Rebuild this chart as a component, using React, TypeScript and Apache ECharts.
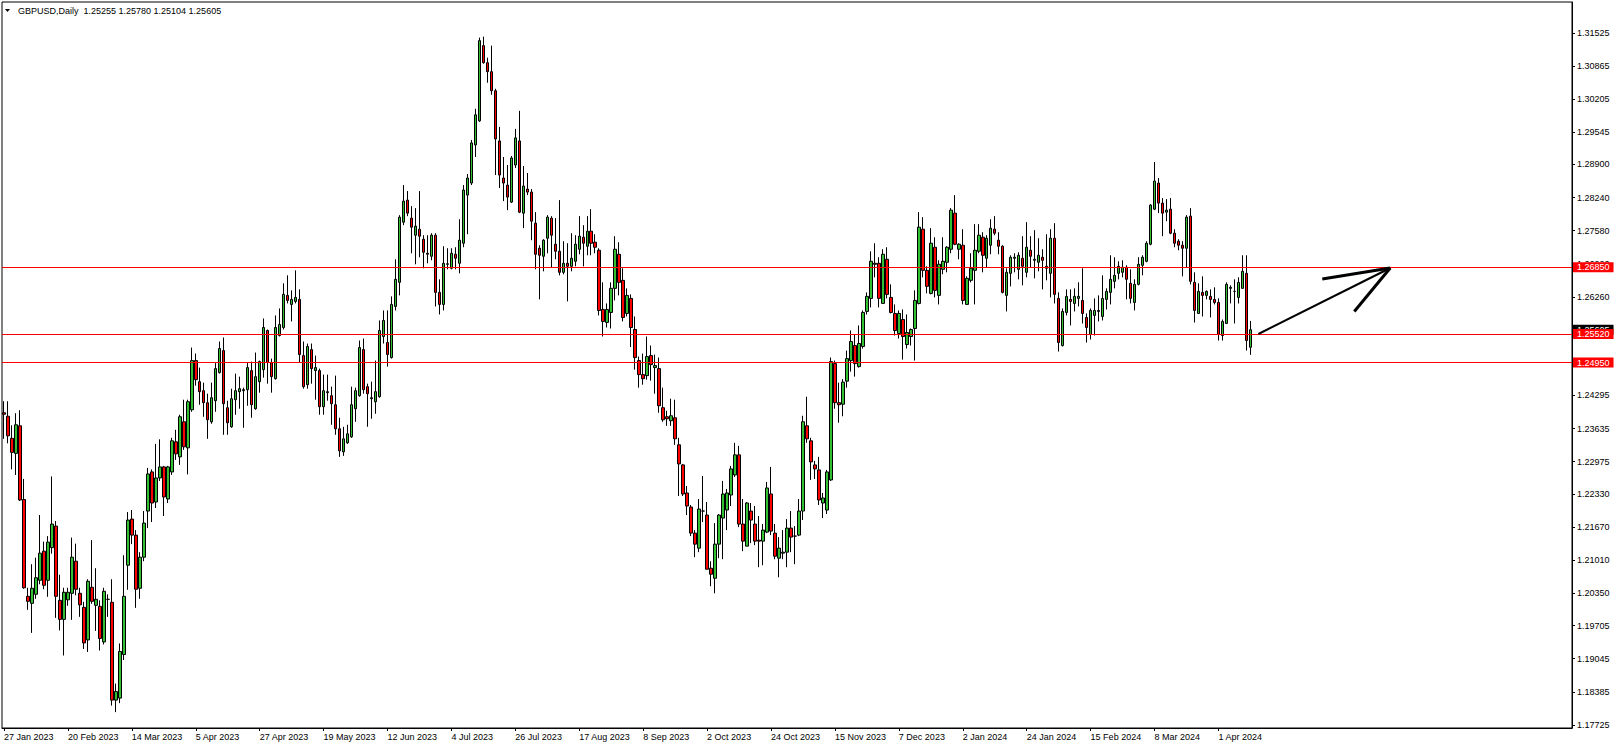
import React, { useEffect, useRef } from "react";
import * as echarts from "echarts";

const SYMBOL = "GBPUSD";
const PERIOD = "Daily";

const OPEN = [
  1.2395, 1.2388, 1.2344, 1.2314, 1.2369, 1.2222, 1.2029, 1.2015, 1.2033, 1.2061,
  1.2119, 1.2061, 1.2126, 1.2169, 1.2021, 1.1983, 1.2022, 1.2035, 1.2099, 1.2035,
  1.2007, 1.1942, 1.2047, 1.2011, 1.2009, 1.1938, 1.2023, 1.2017, 1.1822, 1.1826,
  1.1913, 1.2091, 1.2183, 1.2151, 1.2045, 1.2107, 1.2199, 1.2277, 1.2217, 1.2265,
  1.2287, 1.2223, 1.2277, 1.2337, 1.2307, 1.2377, 1.2325, 1.2401, 1.2499, 1.2457,
  1.2439, 1.2415, 1.2377, 1.2419, 1.2475, 1.2519, 1.2405, 1.2367, 1.2421, 1.2437,
  1.2439, 1.2441, 1.2479, 1.2403, 1.2457, 1.2481, 1.2559, 1.2495, 1.2463, 1.2549,
  1.2565, 1.2629, 1.2611, 1.2617, 1.2621, 1.2509, 1.2451, 1.2521, 1.2479, 1.2479,
  1.2407, 1.2435, 1.2429, 1.2411, 1.2363, 1.2317, 1.2335, 1.2347, 1.2403, 1.2429,
  1.2521, 1.2447, 1.2423, 1.2417, 1.2427, 1.2547, 1.2535, 1.2505, 1.2607, 1.2655,
  1.2775, 1.2819, 1.2783, 1.2749, 1.2761, 1.2741, 1.2713, 1.2707, 1.2749, 1.2635,
  1.2611, 1.2691, 1.2683, 1.2711, 1.2693, 1.2733, 1.2829, 1.2853, 1.2929, 1.2977,
  1.3127, 1.3093, 1.3075, 1.3037, 1.2937, 1.2863, 1.2849, 1.2815, 1.2889, 1.2937,
  1.2793, 1.2841, 1.2835, 1.2773, 1.2723, 1.2707, 1.2743, 1.2783, 1.2731, 1.2717,
  1.2675, 1.2693, 1.2687, 1.2697, 1.2721, 1.2745, 1.2727, 1.2757, 1.2735, 1.2719,
  1.2601, 1.2575, 1.2595, 1.2643, 1.2711, 1.2659, 1.2593, 1.2623, 1.2561, 1.2499,
  1.2471, 1.2469, 1.2509, 1.2485, 1.2483, 1.2405, 1.2387, 1.2379, 1.2385, 1.2331,
  1.2291, 1.2235, 1.2207, 1.2155, 1.2125, 1.2199, 1.2191, 1.2085, 1.2065, 1.2133,
  1.2185, 1.2201, 1.2231, 1.2271, 1.2311, 1.2173, 1.2129, 1.2199, 1.2173, 1.2141,
  1.2139, 1.2157, 1.2233, 1.2155, 1.2105, 1.2115, 1.2117, 1.2165, 1.2149, 1.2151,
  1.2199, 1.2369, 1.2339, 1.2291, 1.2281, 1.2215, 1.2201, 1.2261, 1.2493, 1.2415,
  1.2412, 1.2458, 1.2499, 1.2529, 1.2487, 1.2527, 1.2597, 1.2623, 1.2693, 1.2693,
  1.2613, 1.2701, 1.2625, 1.2593, 1.2553, 1.2581, 1.2531, 1.2547, 1.2563, 1.2613,
  1.2761, 1.2679, 1.2633, 1.2725, 1.2629, 1.2681, 1.2695, 1.2721, 1.2793, 1.2721,
  1.2729, 1.2611, 1.2659, 1.2679, 1.2717, 1.2745, 1.2703, 1.2729, 1.2761, 1.2739,
  1.2727, 1.2629, 1.2673, 1.2703, 1.2681, 1.2703, 1.2675, 1.2719, 1.2699, 1.2695,
  1.2705, 1.2683, 1.2673, 1.2743, 1.2623, 1.2529, 1.2595, 1.2621, 1.2613, 1.2623,
  1.2619, 1.2585, 1.2551, 1.2589, 1.2597, 1.2587, 1.2621, 1.2635, 1.2657, 1.2673,
  1.2675, 1.2685, 1.2653, 1.2615, 1.2651, 1.2689, 1.2697, 1.2731, 1.2801, 1.2853,
  1.2813, 1.2795, 1.2801, 1.2753, 1.2737, 1.2729, 1.2723, 1.2787, 1.2655, 1.2593,
  1.2635, 1.2629, 1.2627, 1.2621, 1.2615, 1.2549, 1.2573, 1.2643, 1.2637, 1.2625,
  1.2643, 1.2673, 1.25255,
];

const HIGH = [
  1.2418, 1.2418, 1.2370, 1.2394, 1.2400, 1.2263, 1.2046, 1.2093, 1.2106, 1.2191,
  1.2138, 1.2149, 1.2268, 1.2179, 1.2072, 1.2046, 1.2046, 1.2146, 1.2134, 1.2046,
  1.2018, 1.2063, 1.2141, 1.2085, 1.2021, 1.2046, 1.2033, 1.2063, 1.1855, 1.1935,
  1.2111, 1.2197, 1.2201, 1.2161, 1.2117, 1.2199, 1.2285, 1.2282, 1.2333, 1.2342,
  1.2289, 1.2289, 1.2345, 1.2361, 1.2391, 1.2421, 1.2421, 1.2525, 1.2513, 1.2485,
  1.2455, 1.2433, 1.2455, 1.2494, 1.2537, 1.2545, 1.2419, 1.2443, 1.2473, 1.2467,
  1.2445, 1.2494, 1.2497, 1.2515, 1.2499, 1.2583, 1.2561, 1.2503, 1.2589, 1.2603,
  1.2653, 1.2669, 1.2639, 1.2679, 1.2641, 1.2537, 1.2533, 1.2533, 1.2509, 1.2483,
  1.2471, 1.2471, 1.2447, 1.2469, 1.2385, 1.2367, 1.2371, 1.2447, 1.2445, 1.2539,
  1.2543, 1.2453, 1.2457, 1.2499, 1.2579, 1.2599, 1.2599, 1.2627, 1.2701, 1.2789,
  1.2849, 1.2837, 1.2807, 1.2803, 1.2837, 1.2749, 1.2749, 1.2753, 1.2753, 1.2661,
  1.2727, 1.2723, 1.2723, 1.2725, 1.2781, 1.2849, 1.2871, 1.2939, 1.3001, 1.3143,
  1.3145, 1.3103, 1.3127, 1.3041, 1.2965, 1.2905, 1.2889, 1.2907, 1.2961, 1.2997,
  1.2887, 1.2873, 1.2841, 1.2795, 1.2729, 1.2741, 1.2789, 1.2787, 1.2783, 1.2819,
  1.2737, 1.2733, 1.2753, 1.2749, 1.2787, 1.2769, 1.2787, 1.2801, 1.2751, 1.2723,
  1.2655, 1.2613, 1.2655, 1.2747, 1.2735, 1.2683, 1.2643, 1.2631, 1.2587, 1.2507,
  1.2513, 1.2547, 1.2529, 1.2511, 1.2505, 1.2445, 1.2399, 1.2423, 1.2421, 1.2345,
  1.2293, 1.2249, 1.2211, 1.2161, 1.2223, 1.2269, 1.2217, 1.2099, 1.2175, 1.2193,
  1.2259, 1.2243, 1.2289, 1.2335, 1.2329, 1.2223, 1.2217, 1.2215, 1.2209, 1.2189,
  1.2173, 1.2257, 1.2287, 1.2173, 1.2147, 1.2161, 1.2183, 1.2199, 1.2169, 1.2223,
  1.2389, 1.2427, 1.2345, 1.2299, 1.2307, 1.2235, 1.2281, 1.2505, 1.2499, 1.2455,
  1.2462, 1.2519, 1.2559, 1.2551, 1.2569, 1.2599, 1.2635, 1.2717, 1.2733, 1.2705,
  1.2721, 1.2725, 1.2651, 1.2611, 1.2599, 1.2601, 1.2591, 1.2563, 1.2639, 1.2795,
  1.2785, 1.2687, 1.2763, 1.2745, 1.2699, 1.2745, 1.2727, 1.2803, 1.2829, 1.2733,
  1.2761, 1.2667, 1.2713, 1.2771, 1.2771, 1.2755, 1.2749, 1.2781, 1.2787, 1.2755,
  1.2729, 1.2683, 1.2709, 1.2713, 1.2715, 1.2747, 1.2775, 1.2747, 1.2759, 1.2743,
  1.2721, 1.2751, 1.2761, 1.2773, 1.2635, 1.2603, 1.2641, 1.2641, 1.2643, 1.2655,
  1.2683, 1.2593, 1.2603, 1.2623, 1.2629, 1.2669, 1.2643, 1.2709, 1.2705, 1.2697,
  1.2699, 1.2689, 1.2681, 1.2661, 1.2705, 1.2709, 1.2737, 1.2811, 1.2895, 1.2863,
  1.2823, 1.2821, 1.2823, 1.2761, 1.2741, 1.2737, 1.2789, 1.2803, 1.2675, 1.2653,
  1.2667, 1.2639, 1.2641, 1.2645, 1.2623, 1.2581, 1.2655, 1.2649, 1.2661, 1.2665,
  1.2709, 1.2709, 1.2578,
];

const LOW = [
  1.2343, 1.2334, 1.2282, 1.2271, 1.2219, 1.2044, 1.2002, 1.1956, 1.2024, 1.2053,
  1.2043, 1.2028, 1.2114, 1.1986, 1.1961, 1.1911, 1.2010, 1.1982, 1.2031, 1.1988,
  1.1924, 1.1918, 1.2014, 1.1960, 1.1921, 1.1933, 1.1988, 1.1811, 1.1798, 1.1816,
  1.1902, 1.2042, 1.2133, 1.2006, 1.2024, 1.2099, 1.2165, 1.2177, 1.2205, 1.2259,
  1.2189, 1.2215, 1.2271, 1.2301, 1.2291, 1.2321, 1.2272, 1.2397, 1.2449, 1.2411,
  1.2387, 1.2343, 1.2373, 1.2397, 1.2473, 1.2351, 1.2351, 1.2365, 1.2391, 1.2403,
  1.2365, 1.2409, 1.2385, 1.2401, 1.2435, 1.2465, 1.2453, 1.2435, 1.2461, 1.2547,
  1.2561, 1.2613, 1.2577, 1.2613, 1.2495, 1.2443, 1.2443, 1.2453, 1.2421, 1.2391,
  1.2391, 1.2419, 1.2371, 1.2351, 1.2307, 1.2309, 1.2333, 1.2345, 1.2377, 1.2427,
  1.2433, 1.2367, 1.2383, 1.2393, 1.2425, 1.2533, 1.2487, 1.2503, 1.2599, 1.2629,
  1.2769, 1.2787, 1.2713, 1.2691, 1.2705, 1.2683, 1.2693, 1.2699, 1.2607, 1.2591,
  1.2599, 1.2681, 1.2681, 1.2681, 1.2673, 1.2725, 1.2751, 1.2849, 1.2905, 1.2975,
  1.3091, 1.3053, 1.3029, 1.2869, 1.2843, 1.2817, 1.2799, 1.2813, 1.2883, 1.2793,
  1.2763, 1.2829, 1.2739, 1.2681, 1.2621, 1.2677, 1.2713, 1.2685, 1.2701, 1.2669,
  1.2671, 1.2617, 1.2677, 1.2687, 1.2711, 1.2687, 1.2709, 1.2709, 1.2713, 1.2589,
  1.2547, 1.2565, 1.2563, 1.2619, 1.2629, 1.2577, 1.2587, 1.2526, 1.2481, 1.2445,
  1.2451, 1.2461, 1.2459, 1.2433, 1.2395, 1.2377, 1.2369, 1.2369, 1.2331, 1.2229,
  1.2229, 1.2191, 1.2149, 1.2107, 1.2117, 1.2177, 1.2083, 1.2049, 1.2035, 1.2105,
  1.2103, 1.2161, 1.2209, 1.2267, 1.2167, 1.2119, 1.2129, 1.2135, 1.2131, 1.2087,
  1.2091, 1.2155, 1.2151, 1.2103, 1.2067, 1.2103, 1.2087, 1.2117, 1.2093, 1.2149,
  1.2181, 1.2335, 1.2261, 1.2263, 1.2211, 1.2185, 1.2193, 1.2259, 1.2403, 1.2375,
  1.2388, 1.2445, 1.2477, 1.2467, 1.2485, 1.2523, 1.2591, 1.2605, 1.2665, 1.2605,
  1.2613, 1.2623, 1.2593, 1.2549, 1.2543, 1.2501, 1.2523, 1.2529, 1.2499, 1.2611,
  1.2665, 1.2633, 1.2631, 1.2625, 1.2611, 1.2671, 1.2675, 1.2713, 1.2729, 1.2701,
  1.2611, 1.2611, 1.2655, 1.2611, 1.2713, 1.2675, 1.2685, 1.2711, 1.2749, 1.2711,
  1.2633, 1.2597, 1.2647, 1.2675, 1.2661, 1.2649, 1.2665, 1.2685, 1.2663, 1.2677,
  1.2641, 1.2659, 1.2625, 1.2613, 1.2517, 1.2527, 1.2589, 1.2569, 1.2597, 1.2607,
  1.2573, 1.2535, 1.2541, 1.2549, 1.2577, 1.2579, 1.2601, 1.2611, 1.2643, 1.2661,
  1.2665, 1.2621, 1.2613, 1.2599, 1.2649, 1.2669, 1.2695, 1.2729, 1.2799, 1.2793,
  1.2747, 1.2777, 1.2751, 1.2725, 1.2719, 1.2667, 1.2685, 1.2651, 1.2575, 1.2593,
  1.2587, 1.2621, 1.2585, 1.2611, 1.2539, 1.2539, 1.2573, 1.2613, 1.2573, 1.2613,
  1.2643, 1.2519, 1.25104,
];

const CLOSE = [
  1.2392, 1.2349, 1.2316, 1.2371, 1.2221, 1.2046, 1.2019, 1.2045, 1.2066, 1.2115,
  1.2051, 1.2137, 1.2173, 1.2029, 1.1983, 1.2037, 1.2037, 1.2107, 1.2043, 1.2012,
  1.1936, 1.2059, 1.2019, 1.2023, 1.1945, 1.2039, 1.2023, 1.1822, 1.1839, 1.1919,
  1.2029, 1.2181, 1.2151, 1.2043, 1.2107, 1.2175, 1.2273, 1.2215, 1.2265, 1.2287,
  1.2227, 1.2287, 1.2339, 1.2313, 1.2387, 1.2327, 1.2417, 1.2499, 1.2461, 1.2437,
  1.2415, 1.2381, 1.2425, 1.2483, 1.2523, 1.2413, 1.2375, 1.2423, 1.2439, 1.2443,
  1.2441, 1.2485, 1.2411, 1.2467, 1.2497, 1.2565, 1.2495, 1.2467, 1.2565, 1.2571,
  1.2631, 1.2619, 1.2621, 1.2625, 1.2511, 1.2447, 1.2527, 1.2483, 1.2485, 1.2407,
  1.2439, 1.2437, 1.2413, 1.2363, 1.2319, 1.2343, 1.2353, 1.2411, 1.2439, 1.2525,
  1.2441, 1.2433, 1.2425, 1.2437, 1.2559, 1.2579, 1.2511, 1.2611, 1.2661, 1.2785,
  1.2817, 1.2793, 1.2765, 1.2767, 1.2747, 1.2715, 1.2711, 1.2749, 1.2635, 1.2611,
  1.2693, 1.2692, 1.2713, 1.2703, 1.2739, 1.2839, 1.2863, 1.2933, 1.2989, 1.3137,
  1.3093, 1.3075, 1.3037, 1.2941, 1.2869, 1.2853, 1.2825, 1.2903, 1.2943, 1.2795,
  1.2847, 1.2835, 1.2777, 1.2711, 1.2709, 1.2739, 1.2785, 1.2749, 1.2717, 1.2675,
  1.2693, 1.2687, 1.2703, 1.2731, 1.2747, 1.2733, 1.2757, 1.2733, 1.2725, 1.2599,
  1.2577, 1.2601, 1.2643, 1.2721, 1.2655, 1.2585, 1.2629, 1.2565, 1.2505, 1.2471,
  1.2463, 1.2507, 1.2491, 1.2489, 1.2409, 1.2381, 1.2383, 1.2389, 1.2343, 1.2293,
  1.2233, 1.2209, 1.2155, 1.2133, 1.2203, 1.2199, 1.2083, 1.2073, 1.2133, 1.2191,
  1.2233, 1.2235, 1.2283, 1.2311, 1.2173, 1.2139, 1.2215, 1.2181, 1.2139, 1.2139,
  1.2161, 1.2245, 1.2159, 1.2109, 1.2125, 1.2117, 1.2165, 1.2147, 1.2149, 1.2199,
  1.2377, 1.2343, 1.2297, 1.2283, 1.2221, 1.2225, 1.2277, 1.2497, 1.2415, 1.2411,
  1.2456, 1.2503, 1.2537, 1.2493, 1.2533, 1.2595, 1.2627, 1.2697, 1.2691, 1.2623,
  1.2711, 1.2631, 1.2595, 1.2559, 1.2593, 1.2547, 1.2555, 1.2561, 1.2619, 1.2765,
  1.2679, 1.2647, 1.2733, 1.2639, 1.2691, 1.2697, 1.2725, 1.2799, 1.2731, 1.2731,
  1.2619, 1.2663, 1.2683, 1.2719, 1.2749, 1.2709, 1.2743, 1.2763, 1.2753, 1.2727,
  1.2635, 1.2675, 1.2705, 1.2705, 1.2709, 1.2687, 1.2725, 1.2707, 1.2701, 1.2709,
  1.2699, 1.2687, 1.2743, 1.2631, 1.2535, 1.2597, 1.2627, 1.2617, 1.2627, 1.2627,
  1.2593, 1.2565, 1.2599, 1.2599, 1.2599, 1.2623, 1.2637, 1.2661, 1.2669, 1.2687,
  1.2685, 1.2661, 1.2623, 1.2651, 1.2691, 1.2705, 1.2733, 1.2809, 1.2857, 1.2813,
  1.2793, 1.2799, 1.2753, 1.2733, 1.2729, 1.2723, 1.2785, 1.2657, 1.2599, 1.2637,
  1.2629, 1.2637, 1.2621, 1.2615, 1.2551, 1.2577, 1.2651, 1.2645, 1.2637, 1.2655,
  1.2677, 1.2539, 1.25605,
];

const DATE_LABELS = [
  "27 Jan 2023", "20 Feb 2023", "14 Mar 2023", "5 Apr 2023", "27 Apr 2023",
  "19 May 2023", "12 Jun 2023", "4 Jul 2023", "26 Jul 2023", "17 Aug 2023",
  "8 Sep 2023", "2 Oct 2023", "24 Oct 2023", "15 Nov 2023", "7 Dec 2023",
  "2 Jan 2024", "24 Jan 2024", "15 Feb 2024", "8 Mar 2024", "1 Apr 2024",
];
const BARS_PER_LABEL = 16;

// axis tick positions; labels for the two levels fully hidden under price boxes are omitted
const PRICE_TICKS = [
  1.31525, 1.30865, 1.30205, 1.29545, 1.289, 1.2824, 1.2758, 1.2692, 1.2626,
  1.256, 1.2494, 1.24295, 1.23635, 1.22975, 1.2233, 1.2167, 1.2101, 1.2035,
  1.19705, 1.19045, 1.18385, 1.17725,
];
const PRICE_LABELS = [
  1.31525, 1.30865, 1.30205, 1.29545, 1.289, 1.2824, 1.2758, 1.2692, 1.2626,
  1.24295, 1.23635, 1.22975, 1.2233, 1.2167, 1.2101, 1.2035,
  1.19705, 1.19045, 1.18385, 1.17725,
];

const LEVELS = [1.2685, 1.2552, 1.2495];

// Hand-drawn arrow: [barIndex, price] pairs for each stroke
const ARROW_SHAFT = [[314, 1.2552], [347, 1.26836]];
const ARROW_HEADS = [
  [[330, 1.26617], [347, 1.26836]],
  [[338, 1.2597], [347, 1.26836]],
];

const Y_MIN = 1.17664;
const Y_MAX = 1.3214;
const SLOTS = 393;

const FONT = "Liberation Sans";

export default function App() {
  const ref = useRef<HTMLDivElement>(null);

  useEffect(() => {
    if (!ref.current) return;
    const chart = echarts.init(ref.current, undefined, { renderer: "svg" });
    const n = OPEN.length;
    const data = OPEN.map((o, i) => [
      o,
      CLOSE[i],
      Math.min(LOW[i], o, CLOSE[i]),
      Math.max(HIGH[i], o, CLOSE[i]),
    ]);
    const cats = Array.from({ length: SLOTS }, (_, i) => String(i));
    const isLabelIdx = (i: number) =>
      i % BARS_PER_LABEL === 0 && i / BARS_PER_LABEL < DATE_LABELS.length;
    const last = n - 1;
    const header = `${SYMBOL},${PERIOD}  ${OPEN[last].toFixed(5)} ${HIGH[last].toFixed(5)} ${LOW[last].toFixed(5)} ${CLOSE[last].toFixed(5)}`;

    const priceLabel = (bg: string) => ({
      show: true,
      position: "end",
      distance: 1,
      formatter: (p: any) => Number(p.value).toFixed(5),
      backgroundColor: bg,
      color: "#fff",
      fontFamily: FONT,
      fontSize: 9,
      lineHeight: 10,
      padding: [0, 4, 0, 4],
    });

    const arrowStyle = (w: number) => ({ color: "#000", width: w, type: "solid", opacity: 1 });

    chart.setOption({
      animation: false,
      backgroundColor: "#fff",
      grid: {
        left: 2,
        right: 46,
        top: 2,
        bottom: 21,
        show: true,
        borderColor: "#000",
        borderWidth: 1,
        backgroundColor: "transparent",
      },
      xAxis: {
        type: "category",
        data: cats,
        boundaryGap: true,
        axisLine: { show: true, onZero: false, lineStyle: { color: "#000", width: 1 } },
        axisTick: {
          show: true,
          interval: (i: number) => isLabelIdx(i),
          alignWithLabel: true,
          length: 3,
          lineStyle: { color: "#000" },
        },
        axisLabel: {
          interval: (i: number) => isLabelIdx(i),
          formatter: (_v: string, i: number) => DATE_LABELS[i / BARS_PER_LABEL] ?? "",
          align: "left",
          margin: 4,
          color: "#000",
          fontFamily: FONT,
          fontSize: 9,
        },
        splitLine: { show: false },
      },
      yAxis: {
        type: "value",
        position: "right",
        min: Y_MIN,
        max: Y_MAX,
        scale: true,
        axisLine: { show: true, lineStyle: { color: "#000", width: 1 } },
        axisTick: {
          show: true,
          customValues: PRICE_TICKS,
          length: 3,
          lineStyle: { color: "#000" },
        },
        axisLabel: {
          customValues: PRICE_LABELS,
          formatter: (v: number) => v.toFixed(5),
          margin: 5,
          color: "#000",
          fontFamily: FONT,
          fontSize: 9,
        },
        splitLine: { show: false },
      },
      series: [
        {
          type: "candlestick",
          data,
          barWidth: 3,
          itemStyle: {
            color: "#32C032",
            color0: "#ff0000",
            borderColor: "#000",
            borderColor0: "#000",
            borderColorDoji: "#000",
            borderWidth: 1,
          },
          markLine: {
            silent: true,
            symbol: ["none", "none"],
            animation: false,
            precision: 5,
            data: [
              {
                yAxis: CLOSE[last],
                lineStyle: { color: "rgba(0,0,0,0)", width: 0 },
                label: priceLabel("#000"),
              },
              ...LEVELS.map((v) => ({
                yAxis: v,
                lineStyle: { color: "#ff0000", width: 1, type: "solid", opacity: 1 },
                label: priceLabel("#ff0000"),
              })),
              [
                { coord: ARROW_SHAFT[0], lineStyle: arrowStyle(2), label: { show: false } },
                { coord: ARROW_SHAFT[1], lineStyle: arrowStyle(2), label: { show: false } },
              ],
              ...ARROW_HEADS.map((seg) => [
                { coord: seg[0], lineStyle: arrowStyle(3), label: { show: false } },
                { coord: seg[1], lineStyle: arrowStyle(3), label: { show: false } },
              ]),
            ],
          },
        },
      ],
      graphic: [
        {
          type: "polygon",
          shape: { points: [[5, 9], [10, 9], [7.5, 12]] },
          style: { fill: "#000" },
          z: 100,
        },
        {
          type: "text",
          x: 18,
          y: 11,
          z: 100,
          style: {
            text: header,
            fill: "#000",
            fontFamily: FONT,
            fontSize: 9,
            verticalAlign: "middle",
            textVerticalAlign: "middle",
          },
        },
      ],
    });
    return () => chart.dispose();
  }, []);

  return (
    <div
      ref={ref}
      style={{ position: "absolute", left: 0, top: 0, width: 1618, height: 749, background: "#fff" }}
    />
  );
}
